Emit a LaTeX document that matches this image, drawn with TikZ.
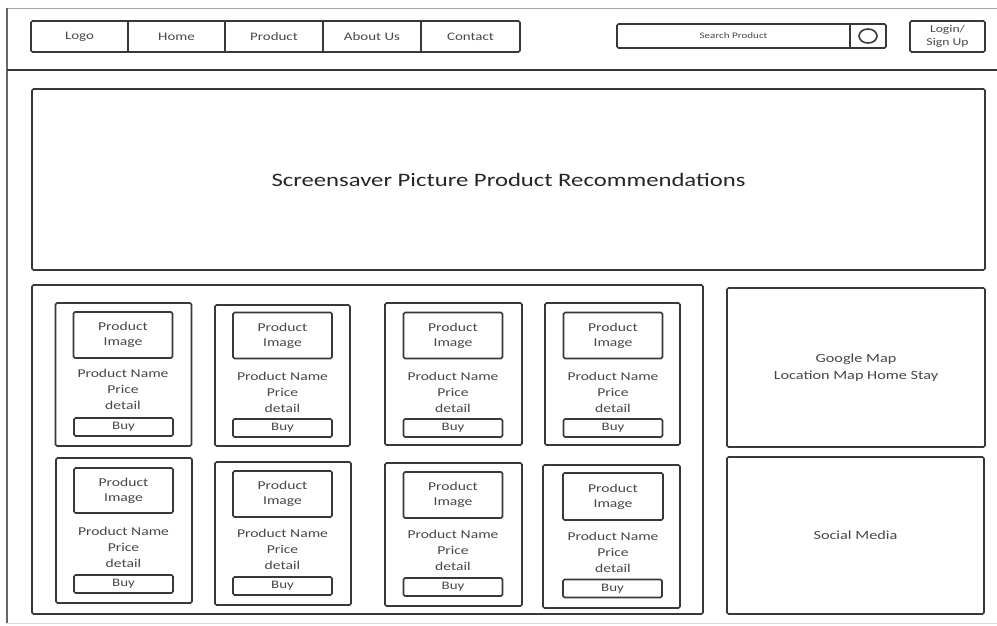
\documentclass[tikz,border=0pt]{standalone}
\usepackage{fontspec}
\setmainfont{Carlito}[FakeStretch=1.3]

\begin{document}
\begin{tikzpicture}[
  x=1pt, y=-1pt,
  every node/.style={align=center, inner sep=0pt, text=black!72},
  frame/.style={draw=black!78, line width=1.6pt, rounded corners=1.5pt},
  navcell/.style={minimum height=31pt, font=\fontsize{11.5}{13}\selectfont},
  panel/.style={frame, font=\fontsize{12.5}{17}\selectfont},
  card/.style={frame, minimum width=136pt, minimum height=143pt},
  imgbox/.style={frame, minimum width=99pt, minimum height=46pt, font=\fontsize{12}{15}\selectfont},
  info/.style={font=\fontsize{12}{16}\selectfont},
  buybtn/.style={frame, minimum width=99pt, minimum height=18pt, font=\fontsize{11.5}{12}\selectfont}
]
\useasboundingbox (0,0) rectangle (997,625);

% page edges and header rule
\draw[black!35, line width=0.8pt] (7,8) -- (997,8);
\draw[black!60, line width=2pt] (7,8) -- (7,623);
\draw[black!15, line width=0.8pt] (7,623) -- (997,623);
\draw[black!78, line width=1.8pt] (7,70) -- (997,70);

% menu
\node[frame, minimum width=489pt, minimum height=31pt] (menu) at (275.5,36.5) {};
\node[navcell, minimum width=97pt] (logo)    at (79.5,36.5)  {Logo};
\node[navcell, minimum width=97pt] (home)    at (176.5,36.5) {Home};
\node[navcell, minimum width=98pt] (product) at (274,36.5)   {Product};
\node[navcell, minimum width=98pt] (about)   at (372,36.5)   {About Us};
\node[navcell, minimum width=99pt] (contact) at (470.5,36.5) {Contact};
\draw[frame] (logo.north east) -- (logo.south east);
\draw[frame] (home.north east) -- (home.south east);
\draw[frame] (product.north east) -- (product.south east);
\draw[frame] (about.north east) -- (about.south east);

% search and login
\node[frame, minimum width=269pt, minimum height=24pt] (search) at (751.5,36) {};
\node[minimum width=233pt, minimum height=24pt, font=\fontsize{8.5}{10}\selectfont] (searchtxt) at (733.5,36) {Search Product};
\node[minimum width=36pt, minimum height=24pt] (searchbtn) at (868,36) {};
\draw[frame] (searchbtn.north west) -- (searchbtn.south west);
\draw[frame] (searchbtn.center) ellipse (9pt and 7pt);
\node[frame, minimum width=75pt, minimum height=31pt, font=\fontsize{10.5}{13.5}\selectfont] (login) at (947.5,36.5) {Login/\\Sign Up};

% banner
\node[frame, minimum width=953pt, minimum height=181pt, font=\fontsize{19}{22}\selectfont, text=black!85] (banner) at (508.5,179.5) {Screensaver Picture Product Recommendations};

% product grid
\node[frame, minimum width=671pt, minimum height=329pt] (grid) at (367.5,449.5) {};

\node[card] (card1) at (123.5,374.5) {};
\node[imgbox] (img1) at (123,335) {Product\\Image};
\node[info] (info1) at (123,389) {Product Name\\Price\\detail};
\node[buybtn] (buy1) at (123.5,427) {Buy};

\node[card, minimum width=135pt, minimum height=141pt] (card2) at (282.5,375.5) {};
\node[imgbox] (img2) at (282.5,335.5) {Product\\Image};
\node[info] (info2) at (282.5,392) {Product Name\\Price\\detail};
\node[buybtn] (buy2) at (282.5,428) {Buy};

\node[card, minimum width=137pt, minimum height=142pt] (card3) at (453.5,374) {};
\node[imgbox] (img3) at (453,335.5) {Product\\Image};
\node[info] (info3) at (453,392) {Product Name\\Price\\detail};
\node[buybtn] (buy3) at (453,428) {Buy};

\node[card, minimum width=135pt, minimum height=142pt] (card4) at (612.5,374) {};
\node[imgbox] (img4) at (613,335.5) {Product\\Image};
\node[info] (info4) at (613,392) {Product Name\\Price\\detail};
\node[buybtn] (buy4) at (613,428) {Buy};

\node[card, minimum height=145pt] (card5) at (124,530.5) {};
\node[imgbox, minimum height=45pt] (img5) at (123.5,490.5) {Product\\Image};
\node[info] (info5) at (123.5,547) {Product Name\\Price\\detail};
\node[buybtn] (buy5) at (123.5,584) {Buy};

\node[card] (card6) at (283,533.5) {};
\node[imgbox] (img6) at (282.5,494) {Product\\Image};
\node[info] (info6) at (282.5,549) {Product Name\\Price\\detail};
\node[buybtn] (buy6) at (282.5,586) {Buy};

\node[card, minimum width=137pt] (card7) at (453.5,534.5) {};
\node[imgbox] (img7) at (453,495) {Product\\Image};
\node[info] (info7) at (453,550) {Product Name\\Price\\detail};
\node[buybtn] (buy7) at (453,587) {Buy};

\node[card, minimum width=137pt] (card8) at (611.5,536.5) {};
\node[imgbox, minimum width=100pt, minimum height=47pt] (img8) at (613,496.5) {Product\\Image};
\node[info] (info8) at (613,552.5) {Product Name\\Price\\detail};
\node[buybtn] (buy8) at (612.5,588.5) {Buy};

% side panels
\node[panel, minimum width=258pt, minimum height=159pt] (map) at (856,367.5) {Google Map\\Location Map Home Stay};
\node[panel, minimum width=257pt, minimum height=157pt] (social) at (855.5,535.5) {Social Media};

\end{tikzpicture}
\end{document}
